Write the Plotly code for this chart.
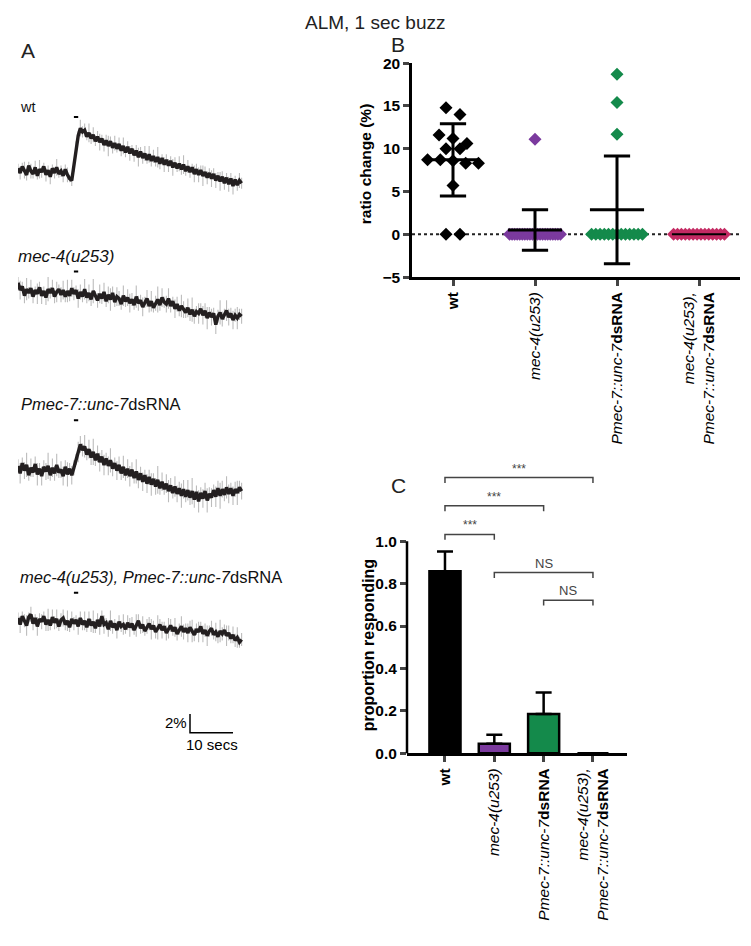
import numpy as np
import plotly.graph_objects as go

W, H = 751, 946          # reference frame (pixels)
OFF = 8                  # page body margin compensation
FW, FH = W - OFF, H - 2 * OFF

# ---------------- Panel A: calcium traces (ratio change %, sampled every 0.5 s) -------------
DT = 0.5
trace_names = ["wt", "mec-4(u253)", "Pmec-7::unc-7dsRNA", "mec-4(u253), Pmec-7::unc-7dsRNA"]
wt_trace = [0.3,-0.2,0.5,0.1,-0.4,0.6,0.0,-0.3,0.4,-0.5,0.2,-0.1,0.5,-0.4,0.1,-0.6,0.3,-0.2,0.4,-0.3,0.0,-0.5,0.2,-0.4,-0.8,-1.0,
            0.5,2.4,3.8,4.6,4.2,
            4.4,3.7,4.1,3.5,3.9,3.2,3.7,3.1,3.5,2.8,3.3,2.7,3.2,2.5,3.0,2.4,2.9,2.2,2.7,2.0,
            2.6,1.9,2.4,1.7,2.2,1.5,2.1,1.4,1.9,1.2,1.8,1.1,1.6,1.0,1.5,0.8,1.4,0.7,1.2,0.6,
            1.1,0.4,0.9,0.3,0.8,0.2,0.7,0.0,0.5,-0.1,0.4,-0.3,0.2,-0.4,0.1,-0.5,-0.1,-0.7,-0.2,-0.8,
            -0.3,-1.0,-0.5,-1.1,-0.6,-1.3,-0.7,-1.4,-0.8,-1.6,-0.9,-1.5,-1.0,-1.3]
mec4_trace = [1.2,0.4,0.8,-0.2,0.5,0.1,0.6,-0.3,0.4,0.0,0.7,-0.2,0.3,-0.4,0.5,0.1,0.6,-0.3,0.2,0.5,-0.1,0.4,-0.3,0.3,-0.2,0.6,0.0,
              0.4,-0.5,0.2,-0.3,0.5,-0.4,0.1,-0.6,0.3,-0.2,-0.7,0.0,-0.5,0.2,-0.8,-0.1,-0.6,0.1,-0.9,-0.3,-0.5,-1.1,-0.2,-0.8,-0.4,-1.0,
              -0.6,-1.2,-0.3,-1.0,-0.7,-1.4,-0.9,-0.5,-1.3,-0.8,-1.5,-1.0,-0.6,-1.2,-0.4,-0.9,-1.1,-0.5,-1.3,-0.8,-1.6,-1.1,-1.8,-1.3,-1.7,-2.0,
              -1.5,-2.2,-1.7,-2.4,-1.9,-2.1,-1.6,-2.3,-1.8,-2.6,-2.0,-2.5,-2.1,-3.3,-2.4,-2.0,-2.7,-2.2,-1.8,-2.5,-2.1,-2.8,-2.3,-2.6,-2.2,-2.4]
pmec_trace = [0.5,-0.3,0.8,0.0,0.6,-0.5,0.3,-0.2,0.7,-0.4,0.2,-0.6,0.4,-0.1,0.5,-0.5,0.3,-0.3,0.6,-0.2,0.1,-0.6,0.4,-0.4,0.2,-0.5,0.3,
              1.2,2.0,2.8,2.2,2.6,1.7,2.3,1.4,2.0,1.1,1.8,0.9,1.5,0.6,1.3,0.5,1.1,0.2,0.8,0.0,0.6,-0.3,0.4,-0.5,0.2,-0.6,
              0.1,-0.8,-0.1,-1.0,-0.3,-1.2,-0.5,-1.4,-0.7,-1.5,-0.9,-1.7,-1.0,-1.9,-1.2,-2.0,-1.4,-2.2,-1.6,-2.4,-1.7,-2.5,-1.9,-2.7,-2.0,-2.8,
              -2.1,-2.9,-2.2,-3.1,-2.3,-3.3,-2.4,-3.0,-2.2,-3.2,-2.5,-2.9,-2.1,-2.8,-1.9,-2.7,-2.0,-2.6,-1.8,-2.5,-1.9,-2.7,-2.0,-2.4,-1.8,-2.2]
double_trace = [0.4,-0.3,0.6,0.1,-0.4,0.5,0.8,-0.2,0.4,-0.5,0.3,0.0,0.6,-0.3,0.2,-0.4,0.5,-0.1,0.3,-0.5,0.2,0.4,-0.3,0.1,-0.6,0.3,-0.2,
                0.2,-0.5,0.4,-0.3,0.1,-0.6,0.3,-0.4,0.0,-0.7,0.2,-0.5,0.6,-0.3,-0.1,-0.8,0.1,-0.6,-0.2,-0.9,0.0,-0.5,-0.3,-0.8,-0.1,-0.6,
                -0.2,-0.9,-0.4,0.1,-0.7,-0.3,-1.0,-0.5,-0.2,-0.8,-0.4,-1.1,-0.6,-0.3,-0.9,-0.5,-1.2,-0.7,-0.4,-1.0,-0.6,-1.3,-0.8,-0.5,-1.1,-0.7,
                -1.2,-0.6,-1.0,-1.4,-0.8,-1.1,-0.5,-1.3,-0.9,-1.5,-1.0,-0.7,-1.4,-1.1,-1.6,-1.0,-1.3,-0.9,-1.5,-1.2,-1.8,-1.4,-2.0,-1.7,-2.2,-1.9]
wt_sem = [0.5,0.7,0.4,0.9,0.6,0.4,0.8,0.5,0.7,0.4,1.0,0.6,0.4,0.7,0.5,
          0.8,0.4,0.6,0.9,0.4,0.6,0.7,0.5,0.8,0.4,0.6,0.6,0.8,0.5,0.9,
          0.6,0.7,0.4,1.0,0.6,0.8,0.5,0.6,0.9,0.4,0.7,0.6,1.1,0.5,0.6,
          0.8,0.4,0.7,0.6,0.9,0.5,0.6,0.8,0.4,0.7,0.6,1.0,0.5,0.6,0.8,
          0.4,0.9,0.6,0.7,0.5,1.1,0.6,0.4,0.8,0.6,0.7,0.5,0.9,0.6,0.4,
          0.8,0.6,1.0,0.5,0.7,0.6,0.4,0.9,0.6,0.8,0.5,1.1,0.6,0.7,0.5,
          0.9,0.6,0.8,0.4,1.0,0.6,0.7,0.5,0.8,0.6,0.9,0.4,0.6,0.8,0.6]
mec4_sem = [0.6,1.0,0.5,0.8,1.2,0.6,0.9,0.7,0.4,1.1,0.6,0.9,0.5,0.8,1.3,
            0.6,0.9,0.7,1.1,0.5,0.8,1.0,0.6,1.2,0.6,0.9,0.7,0.5,1.0,0.8,
            0.6,1.1,0.6,0.9,0.7,1.3,0.5,0.8,1.0,0.6,1.0,0.6,0.9,1.2,0.7,
            0.5,1.0,0.8,0.6,1.1,0.6,0.9,1.0,0.7,0.5,1.2,0.8,0.6,1.0,0.6,
            0.9,0.7,1.1,0.5,0.8,1.4,0.6,1.0,0.6,0.9,1.1,0.7,0.5,1.0,0.8,
            0.6,1.2,0.9,0.6,1.0,0.7,1.3,0.8,0.6,1.1,0.6,1.0,0.8,1.2,0.6,
            0.9,0.6,1.0,0.7,1.3,0.8,0.6,1.1,0.9,0.6,1.0,0.7,1.2,0.6,0.8]
pmec_sem = [0.7,1.1,0.6,0.9,1.3,0.6,1.0,0.5,0.8,1.2,0.6,1.0,0.7,0.9,1.4,
            0.6,1.0,0.8,1.2,0.6,0.9,1.0,0.7,1.3,0.6,1.0,0.8,0.6,1.1,0.9,
            0.7,1.2,0.6,1.0,0.8,1.4,0.6,0.9,1.0,0.7,1.1,0.6,1.0,1.3,0.8,
            0.6,1.0,0.9,0.7,1.2,0.6,1.0,1.1,0.8,0.6,1.3,0.9,0.7,1.0,0.6,
            1.0,0.8,1.2,0.6,0.9,1.5,0.7,1.0,0.6,1.0,1.2,0.8,0.6,1.1,0.9,
            0.7,1.3,1.0,0.6,1.1,0.8,1.4,0.9,0.7,1.2,0.6,1.0,0.9,1.3,0.7,
            1.0,0.6,1.1,0.8,1.4,0.9,0.7,1.2,1.0,0.6,1.0,0.8,1.3,0.7,0.9]
double_sem = [0.6,0.9,0.5,0.7,1.1,0.5,0.8,0.7,0.4,1.0,0.6,0.8,0.5,0.7,1.2,
              0.5,0.8,0.7,1.0,0.5,0.7,0.9,0.6,1.1,0.5,0.8,0.7,0.5,0.9,0.7,
              0.6,1.0,0.5,0.8,0.7,1.2,0.5,0.7,0.9,0.6,1.0,0.5,0.8,1.1,0.7,
              0.5,0.9,0.7,0.6,1.1,0.5,0.8,1.0,0.7,0.5,1.2,0.7,0.6,0.9,0.5,
              0.8,0.7,1.1,0.5,0.7,1.3,0.6,0.9,0.5,0.8,1.1,0.7,0.5,1.0,0.7,
              0.6,1.1,0.8,0.5,1.0,0.7,1.2,0.7,0.6,1.1,0.5,0.9,0.7,1.1,0.6,
              0.8,0.5,1.0,0.7,1.2,0.7,0.6,1.1,0.8,0.5,0.9,0.7,1.1,0.6,0.7]
stim_window = [13.0, 14.0]       # s, 1 sec buzz
scale_bar = [2, 10]              # 2 %, 10 secs

# ---------------- Panel B: ratio change (%) per animal ----------------
groups = ["wt", "mec-4(u253)", "Pmec-7::unc-7dsRNA", "mec-4(u253), Pmec-7::unc-7dsRNA"]
wt_ratio = [14.8, 14.0, 11.6, 11.2, 10.6, 10.0, 10.0, 8.7, 8.7, 8.6, 8.3, 8.3, 5.7, 0.0, 0.0]
mec4_ratio = [11.1, 0.0, 0.0, 0.0, 0.0, 0.0, 0.0, 0.0, 0.0, 0.0, 0.0, 0.0, 0.0, 0.0, 0.0, 0.0, 0.0, 0.0, 0.0, 0.0, 0.0, 0.0]
pmec_ratio = [18.7, 15.4, 11.7, 0.0, 0.0, 0.0, 0.0, 0.0, 0.0, 0.0, 0.0, 0.0, 0.0, 0.0, 0.0, 0.0]
double_ratio = [0.0, 0.0, 0.0, 0.0, 0.0, 0.0, 0.0, 0.0, 0.0, 0.0, 0.0, 0.0, 0.0, 0.0]
b_yticks = [-5, 0, 5, 10, 15, 20]

# ---------------- Panel C: proportion responding ----------------
prop_responding = [0.858, 0.045, 0.185, 0.0]
prop_err = [0.094, 0.043, 0.102, 0.0]
c_yticks = [0.0, 0.2, 0.4, 0.6, 0.8, 1.0]
comparisons = [(0, 3, 1.30, "***"), (0, 2, 1.167, "***"), (0, 1, 1.032, "***"),
               (1, 3, 0.852, "NS"), (2, 3, 0.722, "NS")]

group_colors = ["#000000", "#7b3a9e", "#148a4b", "#c42a63"]
FONT = "Arial, Liberation Sans, sans-serif"


def fx(p):
    return (p - OFF) / FW


def fy(p):
    return 1 - (p - OFF) / FH


fig = go.Figure()
layout = dict(width=FW, height=FH, margin=dict(l=0, r=0, t=0, b=0), autosize=False,
              paper_bgcolor="white", plot_bgcolor="rgba(0,0,0,0)", showlegend=False,
              font=dict(family=FONT, color="#000"))
annotations, shapes = [], []

# ---- Panel A subplots ----
PX_PER_S, PX_PER_PCT, X0 = 4.3, 9.5, 18
T_RANGE = [0, 55]
panelA = [  # (values, sem, baseline pixel row, y-range)
    (wt_trace, wt_sem, 165, [-4.0, 6.5]),
    (mec4_trace, mec4_sem, 290, [-5.0, 3.5]),
    (pmec_trace, pmec_sem, 470, [-5.0, 6.0]),
    (double_trace, double_sem, 624, [-13.0, 4.0]),
]
stim_level = [5.8, 2.4, 5.4, 3.1]
xdom = [fx(X0), fx(X0 + (T_RANGE[1] - T_RANGE[0]) * PX_PER_S)]
for k, (vals, sem, base, yr) in enumerate(panelA):
    n = k + 1
    xa, ya = ("x" if n == 1 else f"x{n}"), ("y" if n == 1 else f"y{n}")
    t = np.arange(len(vals)) * DT
    fig.add_trace(go.Scatter(x=t, y=vals, mode="lines", xaxis=xa, yaxis=ya,
                             line=dict(color="#231f20", width=3.4),
                             error_y=dict(type="data", array=sem[:len(vals)], color="#bcbcbc",
                                          thickness=1.1, width=0),
                             hoverinfo="skip"))
    top_px = base - yr[1] * PX_PER_PCT
    bot_px = base - yr[0] * PX_PER_PCT
    layout["xaxis" if n == 1 else f"xaxis{n}"] = dict(domain=xdom, range=T_RANGE, visible=False,
                                                      anchor=ya)
    layout["yaxis" if n == 1 else f"yaxis{n}"] = dict(domain=[fy(bot_px), fy(top_px)], range=yr,
                                                      visible=False, anchor=xa)
    shapes.append(dict(type="line", xref=xa, yref=ya, x0=stim_window[0], x1=stim_window[1],
                       y0=stim_level[k], y1=stim_level[k], line=dict(color="black", width=2)))

# scale bar in last trace subplot
sb_x0, sb_y0 = 40, -11.9
fig.add_trace(go.Scatter(x=[sb_x0, sb_x0, sb_x0 + scale_bar[1]],
                         y=[sb_y0 + scale_bar[0], sb_y0, sb_y0], mode="lines",
                         xaxis="x4", yaxis="y4", line=dict(color="black", width=1.5),
                         hoverinfo="skip"))
annotations.append(dict(x=sb_x0, y=sb_y0 + scale_bar[0] * 0.55, xref="x4", yref="y4",
                        text=f"{scale_bar[0]}%", showarrow=False, xanchor="right",
                        yanchor="middle", xshift=-1, font=dict(size=15, family=FONT)))
annotations.append(dict(x=sb_x0 + scale_bar[1] / 2, y=sb_y0, xref="x4", yref="y4",
                        text=f"{scale_bar[1]} secs", showarrow=False, xanchor="center",
                        yanchor="top", yshift=-1, font=dict(size=15, family=FONT)))

label_pos = [(18, 100, "wt", 14.5), (16, 252, "<i>mec-4(u253)</i>", 17),
             (19, 402, "<i>Pmec-7::unc-7</i>dsRNA", 16.5),
             (18, 578, "<i>mec-4(u253), Pmec-7::unc-7</i>dsRNA", 16.5)]
for x, y, txt, sz in label_pos:
    annotations.append(dict(x=fx(x), y=fy(y), xref="paper", yref="paper", text=txt,
                            showarrow=False, xanchor="left", yanchor="middle",
                            font=dict(size=sz, family=FONT, color="#111")))

# ---- Panel B: scatter with mean +/- SD ----
b_vals = [wt_ratio, mec4_ratio, pmec_ratio, double_ratio]


def swarm(vals, step=0.17, cap=0.62, tol=1.05):
    order = sorted(range(len(vals)), key=lambda i: -vals[i])
    rows = []
    for i in order:
        if rows and abs(vals[rows[-1][0]] - vals[i]) <= tol:
            rows[-1].append(i)
        else:
            rows.append([i])
    offs = [0.0] * len(vals)
    for r in rows:
        kk = len(r)
        width = min((kk - 1) * step, cap)
        for j, i in enumerate(r):
            offs[i] = -width / 2 + (width * j / (kk - 1) if kk > 1 else 0)
    return offs


shapes.append(dict(type="line", xref="x5", yref="y5", x0=-0.5, x1=3.5, y0=0, y1=0,
                   layer="below", line=dict(color="#222", width=2, dash="dot")))
for gi, vals in enumerate(b_vals):
    offs = swarm(vals)
    fig.add_trace(go.Scatter(x=[gi + o for o in offs], y=vals, mode="markers",
                             xaxis="x5", yaxis="y5",
                             marker=dict(symbol="diamond", size=10, color=group_colors[gi],
                                         line=dict(width=0)), hoverinfo="skip"))
for gi, vals in enumerate(b_vals):
    m = float(np.mean(vals))
    sd = float(np.std(vals, ddof=1))
    xs, ys = [gi - 0.33, gi + 0.33], [m, m]
    if sd > 0:
        xs += [None, gi, gi, None, gi - 0.16, gi + 0.16, None, gi - 0.16, gi + 0.16]
        ys += [None, m - sd, m + sd, None, m + sd, m + sd, None, m - sd, m - sd]
    fig.add_trace(go.Scatter(x=xs, y=ys, mode="lines", xaxis="x5", yaxis="y5",
                             line=dict(color="black", width=3 if sd > 0 else 2),
                             hoverinfo="skip"))

b_ticktext = ["<b>wt</b>", "<i>mec-4(u253)</i>", "<i>Pmec-7::unc-7</i><b>dsRNA</b>",
              "<i>mec-4(u253),</i><br><i>Pmec-7::unc-7</i><b>dsRNA</b>"]
layout["xaxis5"] = dict(domain=[fx(412), fx(740)], range=[-0.5, 3.5], anchor="y5",
                        tickvals=[0, 1, 2, 3], ticktext=b_ticktext, tickangle=-90,
                        ticks="outside", ticklen=6, tickwidth=2.5, showline=True, linewidth=2.5,
                        linecolor="black", showgrid=False, zeroline=False,
                        tickfont=dict(size=15.5, family=FONT, color="black"))
layout["yaxis5"] = dict(domain=[fy(273), fy(55)], range=[-5, 20], anchor="x5",
                        tickvals=b_yticks, ticks="outside", ticklen=6, tickwidth=2.5,
                        showline=True, linewidth=2.5, linecolor="black", showgrid=False,
                        zeroline=False,
                        tickfont=dict(size=15.5, family=FONT, color="black", weight="bold"))
annotations.append(dict(x=fx(365), y=fy(158), xref="paper", yref="paper",
                        text="<b>ratio change (%)</b>", textangle=-90, showarrow=False,
                        xanchor="center", yanchor="middle",
                        font=dict(size=15.5, family=FONT, color="black")))

# ---- Panel C: bar chart ----
fig.add_trace(go.Bar(x=[0, 1, 2, 3], y=prop_responding, xaxis="x6", yaxis="y6", width=0.63,
                     marker=dict(color=group_colors[:3] + ["white"],
                                 line=dict(color="black", width=2.5)),
                     error_y=dict(type="data", symmetric=False, array=prop_err,
                                  arrayminus=[0] * 4, color="black", thickness=2.5, width=8),
                     hoverinfo="skip"))
for a, b, h, txt in comparisons:
    d = 0.025
    fig.add_trace(go.Scatter(x=[a, a, b, b], y=[h - d, h, h, h - d], mode="lines",
                             xaxis="x6", yaxis="y6", line=dict(color="#444", width=1.5),
                             hoverinfo="skip"))
    annotations.append(dict(x=(a + b) / 2, y=h, xref="x6", yref="y6", text=txt,
                            showarrow=False, xanchor="center", yanchor="bottom", yshift=0,
                            font=dict(size=13 if txt == "NS" else 12, family=FONT, color="#444")))

C_ZERO_PX, C_PX_PER_UNIT, C_TOP = 758, 216, 1.35
c_dom = [fy(C_ZERO_PX), fy(C_ZERO_PX - C_TOP * C_PX_PER_UNIT)]
layout["xaxis6"] = dict(domain=[fx(407), fx(627)], range=[-0.77, 3.69], anchor="y6",
                        tickvals=[0, 1, 2, 3], ticktext=b_ticktext, tickangle=-90,
                        ticks="outside", ticklen=6, tickwidth=2.5, showline=True, linewidth=2.5,
                        linecolor="black", showgrid=False, zeroline=False,
                        tickfont=dict(size=15.5, family=FONT, color="black"))
layout["yaxis6"] = dict(domain=c_dom, range=[0, C_TOP], anchor="x6", tickvals=c_yticks,
                        tickformat=".1f", ticks="outside", ticklen=6, tickwidth=2.5,
                        showline=False, showgrid=False, zeroline=False,
                        tickfont=dict(size=15.5, family=FONT, color="black", weight="bold"))
y_to_paper = lambda v: c_dom[0] + (v - 0) / C_TOP * (c_dom[1] - c_dom[0])
shapes.append(dict(type="line", xref="paper", yref="paper", x0=fx(407), x1=fx(407),
                   y0=y_to_paper(0), y1=y_to_paper(c_yticks[-1]),
                   line=dict(color="black", width=2.5)))
annotations.append(dict(x=fx(368), y=fy(648), xref="paper", yref="paper",
                        text="<b>proportion responding</b>", textangle=-90, showarrow=False,
                        xanchor="center", yanchor="middle",
                        font=dict(size=16, family=FONT, color="black")))

# ---- Titles / panel letters ----
annotations.append(dict(x=fx(375), y=fy(14), xref="paper", yref="paper", text="ALM, 1 sec buzz",
                        showarrow=False, xanchor="center", yanchor="middle",
                        font=dict(size=19, family=FONT, color="#222")))
for lx, ly, letter in [(28, 42, "A"), (398, 36, "B"), (398, 485, "C")]:
    annotations.append(dict(x=fx(lx), y=fy(ly), xref="paper", yref="paper", text=letter,
                            showarrow=False, xanchor="center", yanchor="middle",
                            font=dict(size=21, family=FONT, color="#222")))

layout["annotations"] = annotations
layout["shapes"] = shapes
fig.update_layout(**layout)
fig.write_html("out.html")
